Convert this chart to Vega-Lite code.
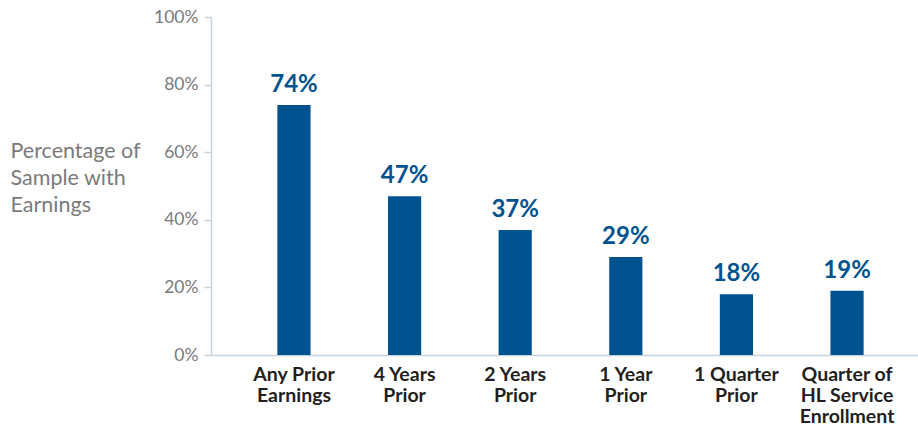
{
  "$schema": "https://vega.github.io/schema/vega-lite/v6.json",
  "autosize": "none",
  "width": 707,
  "height": 338,
  "padding": {"left": 211, "top": 17, "right": 0, "bottom": 76},
  "background": "white",
  "config": {"view": {"stroke": null}, "font": "Lato"},
  "data": {"values": [
    {"cat": "Any Prior|Earnings", "value": 74, "label": "74%"},
    {"cat": "4 Years|Prior", "value": 47, "label": "47%"},
    {"cat": "2 Years|Prior", "value": 37, "label": "37%"},
    {"cat": "1 Year|Prior", "value": 29, "label": "29%"},
    {"cat": "1 Quarter|Prior", "value": 18, "label": "18%"},
    {"cat": "Quarter of|HL Service|Enrollment", "value": 19, "label": "19%"}
  ]},
  "encoding": {
    "x": {"field": "cat", "type": "nominal", "sort": null,
      "scale": {"paddingInner": 0.7, "paddingOuter": 0.6, "range": [0, 719]},
      "axis": {"title": null, "labelAngle": 0, "labelExpr": "split(datum.value, '|')",
        "labelFont": "Lato", "labelFontSize": 19.5, "labelFontWeight": "bold", "labelColor": "#231f20",
        "labelLineHeight": 21, "labelBaseline": "top", "labelPadding": 10,
        "ticks": false, "domainColor": "#c5d3df", "domainWidth": 1.5}},
    "y": {"field": "value", "type": "quantitative",
      "scale": {"domain": [0, 100], "nice": false},
      "axis": {"values": [0, 20, 40, 60, 80, 100], "labelExpr": "datum.value + '%'",
        "grid": false, "labelFont": "Lato", "labelFontSize": 17.5, "labelColor": "#7a7a7a",
        "labelPadding": 6, "tickSize": 7, "tickColor": "#c5d3df", "tickWidth": 1.5,
        "domainColor": "#c5d3df", "domainWidth": 1.5,
        "title": ["Percentage of", "Sample with", "Earnings"], "titleAngle": 0,
        "titleAlign": "left", "titleBaseline": "alphabetic", "titleX": -201, "titleY": 140,
        "titleFont": "Lato", "titleFontSize": 21.5, "titleFontWeight": "normal",
        "titleColor": "#7a7a7a", "titleLineHeight": 27}}
  },
  "layer": [
    {"mark": {"type": "bar", "color": "#00538f"}},
    {"mark": {"type": "text", "dy": -8, "baseline": "bottom", "font": "Lato", "fontSize": 24, "fontWeight": "bold", "color": "#00538f"},
      "encoding": {"text": {"field": "label", "type": "nominal"}}}
  ]
}
